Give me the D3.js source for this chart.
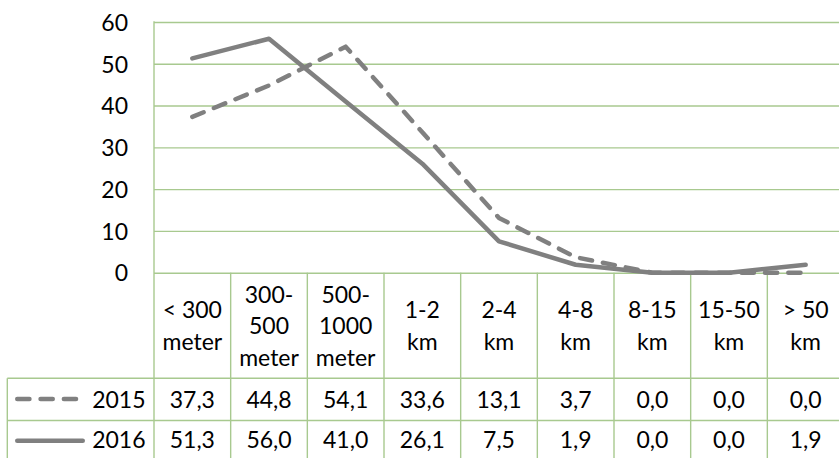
<!DOCTYPE html>
<html>
<head>
<meta charset="utf-8">
<script src="https://cdn.jsdelivr.net/npm/d3@7/dist/d3.min.js"></script>
<style>
  html, body { margin: 0; padding: 0; background: #fff; }
  svg { display: block; }
  text { font-family: Lato, "Open Sans", sans-serif; font-size: 23px; fill: #000; }
</style>
</head>
<body>
<svg id="chart" width="839" height="458"></svg>
<script>
// Distance classes (header lines split by "\n")
const categories = [
  "< 300\nmeter", "300-\n500\nmeter", "500-\n1000\nmeter",
  "1-2\nkm", "2-4\nkm", "4-8\nkm", "8-15\nkm", "15-50\nkm", "> 50\nkm"
];
const values2015 = [37.3, 44.8, 54.1, 33.6, 13.1, 3.7, 0.0, 0.0, 0.0];
const values2016 = [51.3, 56.0, 41.0, 26.1, 7.5, 1.9, 0.0, 0.0, 1.9];
const seriesNames = ["2015", "2016"];
const yTicks = [0, 10, 20, 30, 40, 50, 60];

const series = [
  { name: seriesNames[0], values: values2015, dash: "12.2,11.1" },
  { name: seriesNames[1], values: values2016, dash: null }
];

const gridColor = "#a8c98f";
const lineColor = "#808080";
const lineWidth = 4.5;

const svg = d3.select("#chart");

// Plot geometry
const plotLeft = 154, plotRight = 844, plotTop = 22, zeroY = 272.7;
const headerBottom = 378.3, row1Bottom = 420.5, tableBottom = 462;
const legendLeft = 7.3;

const x = d3.scaleBand().domain(d3.range(categories.length)).range([plotLeft, plotRight]);
const y = d3.scaleLinear().domain([0, 60]).range([zeroY, plotTop]);

const locale = d3.formatLocale({ decimal: ",", thousands: ".", grouping: [3], currency: ["", ""] });
const fmt = locale.format(".1f");

// Horizontal gridlines with y tick labels
const yAxis = d3.axisLeft(y).tickValues(yTicks).tickSize(-(plotRight - plotLeft)).tickPadding(26).tickFormat(d3.format("d"));
const gy = svg.append("g").attr("transform", `translate(${plotLeft},0)`).call(yAxis);
gy.select(".domain").remove();
gy.selectAll(".tick line").attr("stroke", gridColor).attr("stroke-width", 1.4);
gy.selectAll(".tick text")
  .attr("fill", "#000")
  .style("font-size", "23px")
  .style("font-family", "Lato, 'Open Sans', sans-serif")
  .attr("dy", "0.36em");

// Table grid
const tg = svg.append("g").attr("stroke", gridColor).attr("stroke-width", 1.4).attr("fill", "none");
// left border of plot and table
tg.append("line").attr("x1", plotLeft).attr("x2", plotLeft).attr("y1", plotTop - 0.7).attr("y2", tableBottom);
// column separators
tg.selectAll("line.col").data(d3.range(1, categories.length + 1)).join("line")
  .attr("class", "col")
  .attr("x1", i => x(i - 1) + x.bandwidth()).attr("x2", i => x(i - 1) + x.bandwidth())
  .attr("y1", zeroY).attr("y2", tableBottom);
// row lines
[headerBottom, row1Bottom].forEach(yy => {
  tg.append("line").attr("x1", legendLeft).attr("x2", plotRight).attr("y1", yy).attr("y2", yy);
});
// legend column left border
tg.append("line").attr("x1", legendLeft).attr("x2", legendLeft).attr("y1", headerBottom).attr("y2", tableBottom);

// Category header labels
const lineGap = 31.6, headerMid = 334.2;
const hdr = svg.append("g").attr("text-anchor", "middle");
categories.forEach((c, i) => {
  const lines = c.split("\n");
  const t = hdr.append("text");
  lines.forEach((ln, k) => {
    t.append("tspan")
      .attr("x", x(i) + x.bandwidth() / 2)
      .attr("y", headerMid + (k - (lines.length - 1) / 2) * lineGap)
      .text(ln);
  });
});

// Data rows
const rowBaselines = [407.6, 448];
series.forEach((s, r) => {
  svg.append("g").attr("text-anchor", "middle")
    .selectAll("text").data(s.values).join("text")
    .attr("x", (d, i) => x(i) + x.bandwidth() / 2)
    .attr("y", rowBaselines[r])
    .text(d => fmt(d));
  // series name
  svg.append("text").attr("text-anchor", "end").attr("x", 145.5).attr("y", rowBaselines[r]).text(s.name);
});

// Legend keys
const legendY = [399, 440.7];
const legendX2 = [78.3 - lineWidth / 2, 85 - lineWidth / 2];
series.forEach((s, r) => {
  svg.append("line")
    .attr("x1", 15 + lineWidth / 2).attr("x2", legendX2[r])
    .attr("y1", legendY[r]).attr("y2", legendY[r])
    .attr("stroke", lineColor).attr("stroke-width", lineWidth)
    .attr("stroke-linecap", "round")
    .attr("stroke-dasharray", s.dash);
});

// Series lines
const line = d3.line()
  .x((d, i) => x(i) + x.bandwidth() / 2)
  .y(d => y(d));

series.forEach(s => {
  svg.append("path")
    .datum(s.values)
    .attr("d", line)
    .attr("fill", "none")
    .attr("stroke", lineColor)
    .attr("stroke-width", lineWidth)
    .attr("stroke-linecap", "round")
    .attr("stroke-linejoin", "round")
    .attr("stroke-dasharray", s.dash);
});
</script>
</body>
</html>
